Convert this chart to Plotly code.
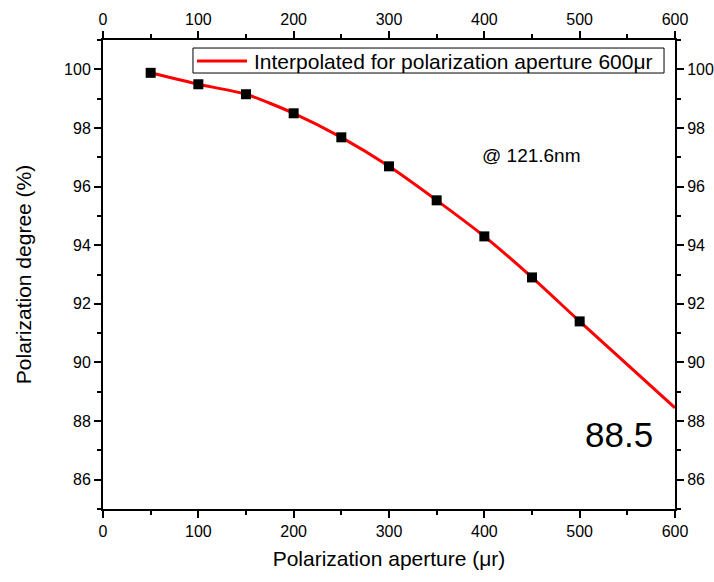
import plotly.graph_objects as go

aperture = [50, 100, 150, 200, 250, 300, 350, 400, 450, 500]
degree = [99.88, 99.49, 99.15, 98.5, 97.68, 96.69, 95.53, 94.3, 92.9, 91.4]
interp_x = [50, 100, 150, 200, 250, 300, 350, 400, 450, 500, 600]
interp_y = [99.88, 99.49, 99.15, 98.5, 97.68, 96.69, 95.53, 94.3, 92.9, 91.4, 88.45]
x_ticks = [0, 100, 200, 300, 400, 500, 600]
y_ticks = [86, 88, 90, 92, 94, 96, 98, 100]
legend_label = "Interpolated for polarization aperture 600\u03bcr"

FONT = "Liberation Sans, Arial, sans-serif"

fig = go.Figure()
fig.add_trace(go.Scatter(x=interp_x, y=interp_y, mode="lines",
                         line=dict(color="#ff0000", width=3, shape="spline", smoothing=0.6),
                         name=legend_label, showlegend=False))
fig.add_trace(go.Scatter(x=aperture, y=degree, mode="markers",
                         marker=dict(symbol="square", color="black", size=10),
                         showlegend=False))
fig.add_trace(go.Scatter(x=[0], y=[90], xaxis="x2", yaxis="y2", mode="markers",
                         marker=dict(opacity=0), showlegend=False, hoverinfo="skip"))

axis_common = dict(showgrid=False, zeroline=False, showline=True, linecolor="black",
                   linewidth=2, ticks="outside", ticklen=7, tickwidth=2, tickcolor="black",
                   automargin=False,
                   tickfont=dict(family=FONT, size=16, color="black"))
minor_x = dict(ticks="outside", dtick=50, ticklen=4, tickwidth=1.5, tickcolor="black")
minor_y = dict(ticks="outside", dtick=1, ticklen=4, tickwidth=1.5, tickcolor="black")

fig.update_layout(
    width=714, height=582,
    margin=dict(l=103, r=39, t=40, b=73),
    paper_bgcolor="white", plot_bgcolor="white",
    font=dict(family=FONT, color="black"),
    showlegend=False,
    xaxis=dict(range=[0, 600], tickvals=x_ticks, minor=minor_x,
               title=dict(text="Polarization aperture (\u03bcr)", font=dict(family=FONT, size=21), standoff=12),
               **axis_common),
    yaxis=dict(range=[85, 101], tickvals=y_ticks, minor=minor_y,
               title=dict(text="Polarization degree (%)", font=dict(family=FONT, size=21), standoff=27),
               **axis_common),
    xaxis2=dict(range=[0, 600], tickvals=x_ticks, overlaying="x", side="top", minor=minor_x,
                **axis_common),
    yaxis2=dict(range=[85, 101], tickvals=y_ticks, overlaying="y", side="right", minor=minor_y,
                **axis_common),
    shapes=[
        dict(type="rect", xref="paper", yref="paper", x0=0.1573, x1=0.9808, y0=0.9296, y1=0.9829,
             line=dict(color="black", width=1), fillcolor="white", layer="above"),
        dict(type="line", xref="paper", yref="paper", x0=0.1643, x1=0.2517, y0=0.9552, y1=0.9552,
             line=dict(color="#ff0000", width=3), layer="above"),
    ],
    annotations=[
        dict(x=0.2605, y=0.9552, xref="paper", yref="paper", text=legend_label, showarrow=False,
             xanchor="left", yanchor="middle", font=dict(family=FONT, size=21)),
        dict(x=395, y=97.06, xref="x", yref="y", text="@ 121.6nm", showarrow=False,
             xanchor="left", font=dict(family=FONT, size=19)),
        dict(x=579, y=87.54, xref="x", yref="y", text="88.5", showarrow=False,
             xanchor="right", font=dict(family=FONT, size=35)),
    ],
)

fig.write_html("out.html")
